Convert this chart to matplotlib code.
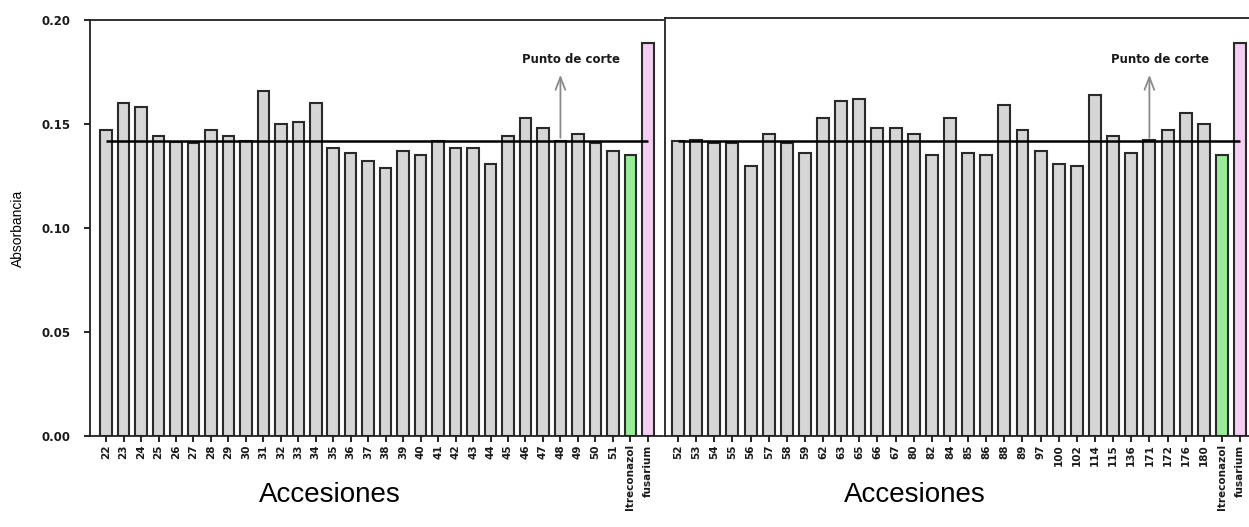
import matplotlib
matplotlib.use("Agg")
import matplotlib.pyplot as plt

left_labels = ["22", "23", "24", "25", "26", "27", "28", "29", "30", "31", "32", "33", "34",
               "35", "36", "37", "38", "39", "40", "41", "42", "43", "44", "45", "46", "47",
               "48", "49", "50", "51", "Itreconazol", "fusarium"]
left_values = [0.147, 0.160, 0.158, 0.144, 0.1415, 0.141, 0.147, 0.144, 0.142, 0.166, 0.150,
               0.151, 0.160, 0.1385, 0.136, 0.132, 0.129, 0.137, 0.135, 0.142, 0.1385, 0.1385,
               0.131, 0.144, 0.153, 0.148, 0.142, 0.145, 0.141, 0.137, 0.135, 0.189]

right_labels = ["52", "53", "54", "55", "56", "57", "58", "59", "62", "63", "65", "66", "67",
                "80", "82", "84", "85", "86", "88", "89", "97", "100", "102", "114", "115",
                "136", "171", "172", "176", "180", "Itreconazol", "fusarium"]
right_values = [0.142, 0.1425, 0.141, 0.141, 0.130, 0.145, 0.141, 0.136, 0.153, 0.161, 0.162,
                0.148, 0.148, 0.145, 0.135, 0.153, 0.136, 0.135, 0.159, 0.147, 0.137, 0.131,
                0.130, 0.164, 0.144, 0.136, 0.1425, 0.147, 0.1555, 0.150, 0.135, 0.189]

cutoff = 0.142
arrow_left_label = "48"
arrow_right_label = "171"
yticks = [0.00, 0.05, 0.10, 0.15, 0.20]

W, H = 1249, 527
fig = plt.figure(figsize=(W / 100, H / 100), dpi=100)

def fx(px):
    return px / W

def fy(py):
    return 1 - py / H

ax1 = fig.add_axes([fx(90), fy(436), fx(663) - fx(90), fy(20) - fy(436)])
ax2 = fig.add_axes([fx(665), fy(436), fx(1252) - fx(665), fy(18) - fy(436)])

gray = "#d6d6d6"
green = "#98ec98"
pink = "#f3cdf3"
edge = "#2a2a2a"

def draw(ax, labels, values, ylim_top, xlim, arrow_label):
    x = list(range(len(labels)))
    colors = [gray] * (len(labels) - 2) + [green, pink]
    ax.bar(x, values, width=0.66, color=colors, edgecolor=edge, linewidth=1.5, zorder=2)
    ax.hlines(cutoff, 0, len(labels) - 1, color="black", linewidth=1.8, zorder=3)
    ai = labels.index(arrow_label)
    ax.annotate("", xy=(ai, 0.175), xytext=(ai, cutoff),
                arrowprops=dict(arrowstyle="->,head_length=0.9,head_width=0.35",
                                color="#8a8a8a", lw=1.3), zorder=4)
    ax.text(ai + 0.6, 0.181, "Punto de corte", ha="center", va="center",
            fontsize=8.5, fontweight="bold", family="DejaVu Sans", color="#1a1a1a", zorder=5)
    ax.set_xlim(*xlim)
    ax.set_ylim(0, ylim_top)
    ax.set_xticks(x)
    ax.set_xticklabels(labels, rotation=90, fontsize=7.5, fontweight="bold",
                       family="DejaVu Sans", color="#1a1a1a")
    ax.tick_params(axis="x", length=4, width=1.2, pad=2)
    for s in ["top", "left", "bottom", "right"]:
        ax.spines[s].set_linewidth(1.3)
        ax.spines[s].set_color("#222222")
    ax.spines["right"].set_visible(False)

draw(ax1, left_labels, left_values, 0.20, (-0.92, 31.87), arrow_left_label)
draw(ax2, right_labels, right_values, 0.20 + 2 / 2070, (-0.72, 31.66), arrow_right_label)

ax1.set_yticks(yticks)
ax1.set_yticklabels([f"{v:.2f}" for v in yticks], fontsize=8.5, fontweight="bold",
                    family="DejaVu Sans", color="#1a1a1a")
ax1.tick_params(axis="y", length=4, width=1.2, pad=10)
ax1.set_ylabel("Absorbancia", fontsize=10, family="Liberation Sans", labelpad=12)
ax2.set_yticks([])

fig.text(fx(330), fy(495), "Accesiones", ha="center", va="center",
         fontsize=20, family="Liberation Sans")
fig.text(fx(915), fy(495), "Accesiones", ha="center", va="center",
         fontsize=20, family="Liberation Sans")

fig.savefig("out.png", dpi=100)
